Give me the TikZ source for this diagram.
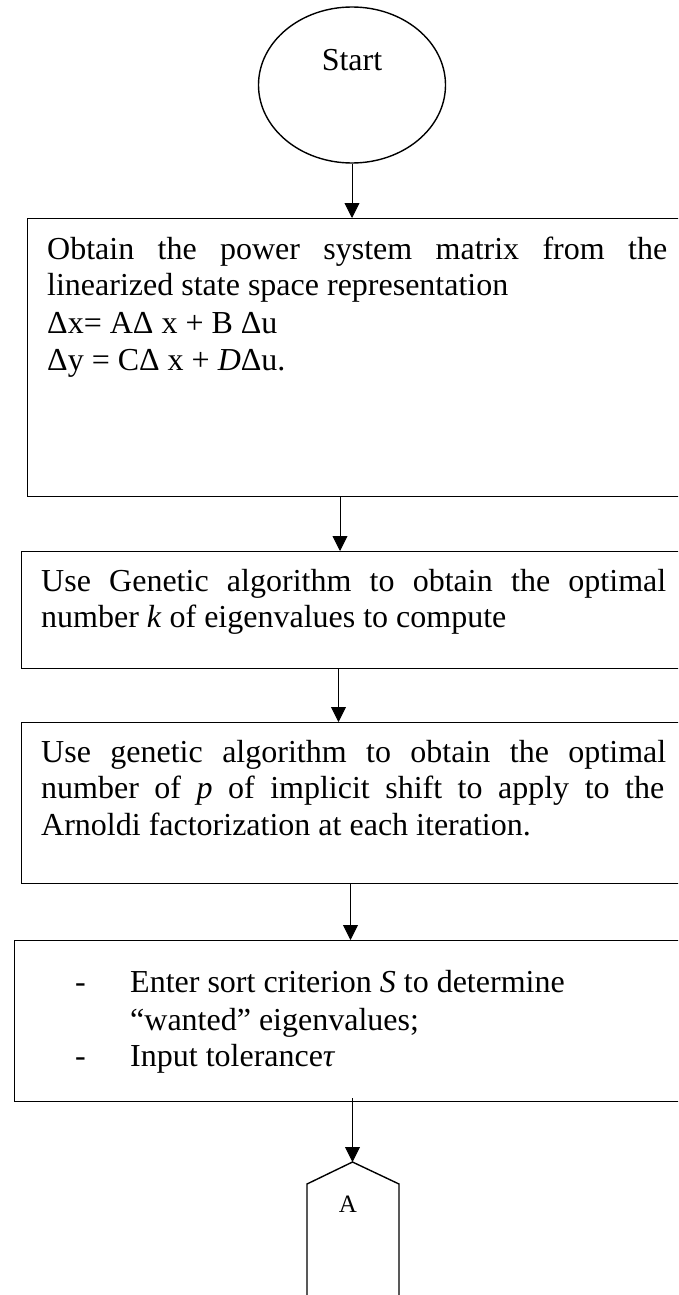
\documentclass[tikz,border=0pt]{standalone}
\usepackage{fontspec}
\setmainfont{Liberation Serif}
\usetikzlibrary{arrows.meta,shapes.geometric}
\begin{document}
\begin{tikzpicture}[x=1pt,y=-1pt,
  box/.style={draw, line width=1.4pt, inner sep=0pt, anchor=north west},
  arr/.style={line width=0.9pt, -{Triangle[length=15pt,width=15pt]}},
  txt/.style={inner sep=0pt, anchor=base west, font=\fontsize{32}{38}\selectfont},
  shape line/.style={line width=1.4pt}]
\useasboundingbox (0,0) rectangle (678,1295);
\clip (0,0) rectangle (678,1295);
\fill[white] (0,0) rectangle (678,1295);

% Start terminal
\node[draw, ellipse, line width=1.4pt, minimum width=187pt, minimum height=156pt, inner sep=0pt] (start) at (352,85) {};
\node[inner sep=0pt, anchor=base, font=\fontsize{32}{38}\selectfont] (starttxt) at (352,71) {Start};

% Boxes
\node[box, minimum width=673pt, minimum height=278pt] (b1) at (27,218) {};
\node[box, minimum width=679pt, minimum height=117pt] (b2) at (21,551) {};
\node[box, minimum width=679pt, minimum height=161pt] (b3) at (21,722) {};
\node[box, minimum width=686pt, minimum height=161pt] (b4) at (14,940) {};

% Box 1 text
\node[txt] (t11) at (47,259) {\makebox[620pt][s]{Obtain the power system matrix from the}};
\node[txt] (t12) at (47,295) {linearized state space representation};
\node[txt] (t13) at (47,333) {Δx= AΔ x + B Δu};
\node[txt] (t14) at (47,370) {Δy = CΔ x + \textit{D}Δu.};

% Box 2 text
\node[txt] (t21) at (41,591) {\makebox[625pt][s]{Use Genetic algorithm to obtain the optimal}};
\node[txt] (t22) at (41,627) {number \textit{k} of eigenvalues to compute};

% Box 3 text
\node[txt] (t31) at (41,762) {\makebox[625pt][s]{Use genetic algorithm to obtain the optimal}};
\node[txt] (t32) at (41,798) {\makebox[623pt][s]{number of \textit{p} of implicit shift to apply to the}};
\node[txt] (t33) at (41,835) {Arnoldi factorization at each iteration.};

% Box 4 text
\node[txt] (d41) at (75,992) {-};
\node[txt] (t41) at (130,992) {Enter sort criterion \textit{S} to determine};
\node[txt] (t42) at (130,1030) {“wanted” eigenvalues;};
\node[txt] (d43) at (75,1066) {-};
\node[txt] (t43) at (130,1066) {Input tolerance\textit{τ}};

% Off-page connector A
\coordinate (apex) at (352.5,1162);
\draw[shape line] (307,1300) -- (307,1184) -- (apex) -- (399,1184) -- (399,1300);
\node[inner sep=0pt, anchor=base, font=\fontsize{25}{30}\selectfont] (atxt) at (348,1212) {A};

% Connectors
\coordinate (x2) at (340,0);
\coordinate (x3) at (338.5,0);
\coordinate (x4) at (350.5,0);
\coordinate (x5) at (352.5,0);
\draw[arr] (start.south) -- (start.south |- b1.north);
\draw[arr] (b1.south -| x2) -- (b2.north -| x2);
\draw[arr] (b2.south -| x3) -- (b3.north -| x3);
\draw[arr] (b3.south -| x4) -- (b4.north -| x4);
\draw[arr] ([yshift=4pt]b4.south -| x5) -- (apex);
\end{tikzpicture}
\end{document}
